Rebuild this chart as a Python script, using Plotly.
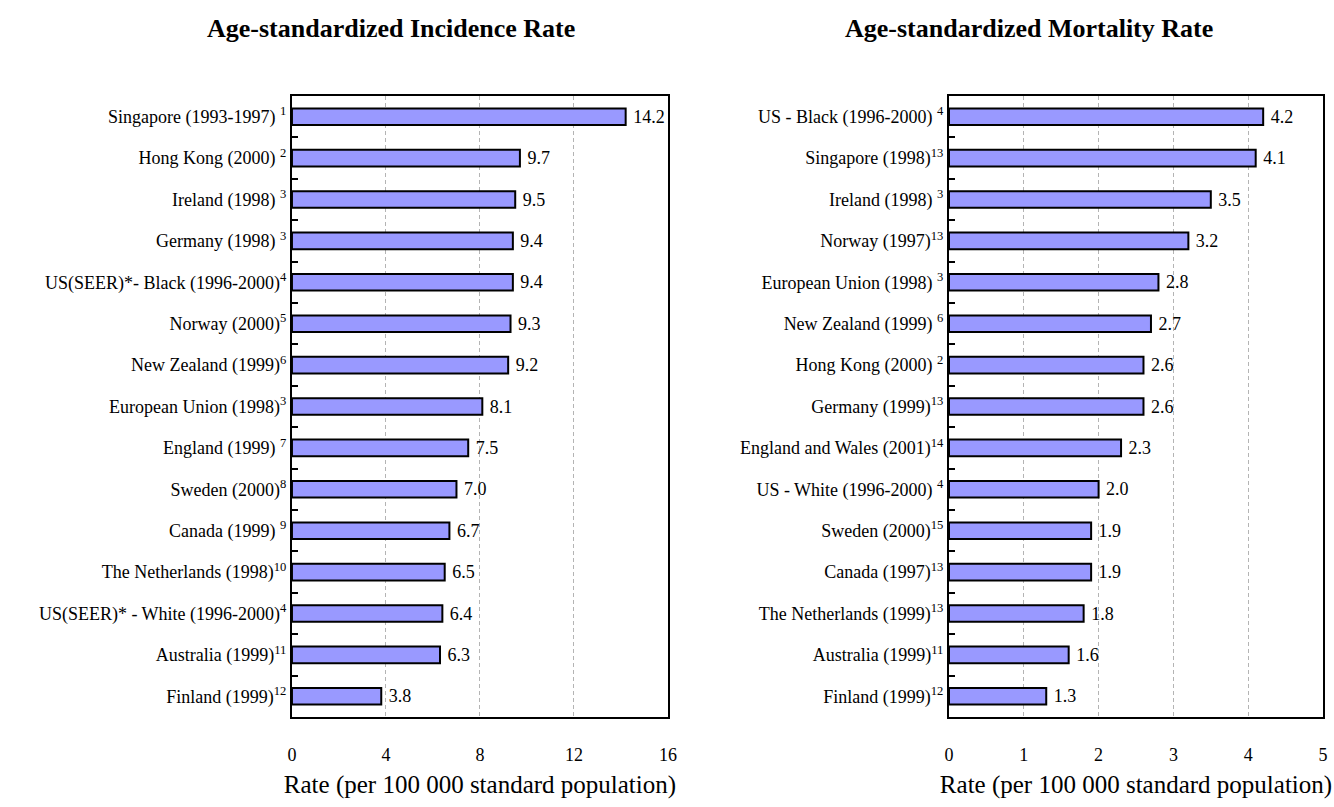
import plotly.graph_objects as go

inc_labels = [
    "Singapore (1993-1997) <sup>1</sup>",
    "Hong Kong (2000) <sup>2</sup>",
    "Ireland (1998) <sup>3</sup>",
    "Germany (1998) <sup>3</sup>",
    "US(SEER)*- Black (1996-2000)<sup>4</sup>",
    "Norway (2000)<sup>5</sup>",
    "New Zealand (1999)<sup>6</sup>",
    "European Union (1998)<sup>3</sup>",
    "England (1999) <sup>7</sup>",
    "Sweden (2000)<sup>8</sup>",
    "Canada (1999) <sup>9</sup>",
    "The Netherlands (1998)<sup>10</sup>",
    "US(SEER)* - White (1996-2000)<sup>4</sup>",
    "Australia (1999)<sup>11</sup>",
    "Finland (1999)<sup>12</sup>",
]
inc_values = [14.2, 9.7, 9.5, 9.4, 9.4, 9.3, 9.2, 8.1, 7.5, 7.0, 6.7, 6.5, 6.4, 6.3, 3.8]

mort_labels = [
    "US - Black (1996-2000) <sup>4</sup>",
    "Singapore (1998)<sup>13</sup>",
    "Ireland (1998) <sup>3</sup>",
    "Norway (1997)<sup>13</sup>",
    "European Union (1998) <sup>3</sup>",
    "New Zealand (1999) <sup>6</sup>",
    "Hong Kong (2000) <sup>2</sup>",
    "Germany (1999)<sup>13</sup>",
    "England and Wales (2001)<sup>14</sup>",
    "US - White (1996-2000) <sup>4</sup>",
    "Sweden (2000)<sup>15</sup>",
    "Canada (1997)<sup>13</sup>",
    "The Netherlands (1999)<sup>13</sup>",
    "Australia (1999)<sup>11</sup>",
    "Finland (1999)<sup>12</sup>",
]
mort_values = [4.2, 4.1, 3.5, 3.2, 2.8, 2.7, 2.6, 2.6, 2.3, 2.0, 1.9, 1.9, 1.8, 1.6, 1.3]

inc_ticks = [0, 4, 8, 12, 16]
mort_ticks = [0, 1, 2, 3, 4, 5]

titles = ["Age-standardized Incidence Rate", "Age-standardized Mortality Rate"]
axis_title = "Rate (per 100 000 standard population)"

FONT = "Liberation Serif"
BAR_COLOR = "#9999FF"

fig = go.Figure()

for labels, values, xa, ya in [
    (inc_labels, inc_values, "x", "y"),
    (mort_labels, mort_values, "x2", "y2"),
]:
    fig.add_trace(go.Bar(
        x=values, y=labels, orientation="h",
        xaxis=xa, yaxis=ya,
        width=0.4,
        marker=dict(color=BAR_COLOR, line=dict(color="black", width=2)),
        text=[f" {v:.1f}" for v in values],
        textposition="outside",
        constraintext="none",
        cliponaxis=False,
        textfont=dict(family=FONT, size=18, color="black"),
        showlegend=False,
        hoverinfo="skip",
    ))

W, H = 1334, 807
L_MARGIN, R_MARGIN, T_MARGIN, B_MARGIN = 0, 0, 96, 90

def px_x(p):
    return p / W

common_x = dict(
    showline=True, mirror=True, linecolor="black", linewidth=2,
    showgrid=True, gridcolor="#b4b4b4", griddash="4px,3px", gridwidth=1,
    zeroline=False, ticks="", ticklabelstandoff=20,
    tickfont=dict(family=FONT, size=18, color="black"),
    title=dict(text=axis_title, font=dict(family=FONT, size=25, color="black"), standoff=12),
)
common_y = dict(
    type="category",
    showline=True, mirror=True, linecolor="black", linewidth=2,
    showgrid=False, zeroline=False,
    ticks="inside", ticklen=6, tickwidth=1.5, tickcolor="black",
    tickson="boundaries",
    tickfont=dict(family=FONT, size=18, color="black"),
    range=[14.5, -0.5],
)

fig.update_layout(
    width=W, height=H,
    margin=dict(l=L_MARGIN, r=R_MARGIN, t=T_MARGIN, b=B_MARGIN),
    paper_bgcolor="white", plot_bgcolor="white",
    font=dict(family=FONT, color="black"),
    xaxis=dict(domain=[px_x(290), px_x(670)], anchor="y", range=[0, 16],
               tickvals=inc_ticks, **common_x),
    yaxis=dict(domain=[0, 1], anchor="x", **common_y),
    xaxis2=dict(domain=[px_x(954), px_x(1332)], anchor="y2", range=[0, 5],
                tickvals=mort_ticks, **common_x),
    yaxis2=dict(domain=[0, 1], anchor="x2", **common_y),
    annotations=[
        dict(text=f"<b>{titles[0]}</b>", x=px_x(390), y=1.1095, xref="paper", yref="paper",
             xanchor="center", yanchor="middle", showarrow=False,
             font=dict(family=FONT, size=26, color="black")),
        dict(text=f"<b>{titles[1]}</b>", x=px_x(1035), y=1.1095, xref="paper", yref="paper",
             xanchor="center", yanchor="middle", showarrow=False,
             font=dict(family=FONT, size=26, color="black")),
    ],
)

fig.write_html("out.html")
